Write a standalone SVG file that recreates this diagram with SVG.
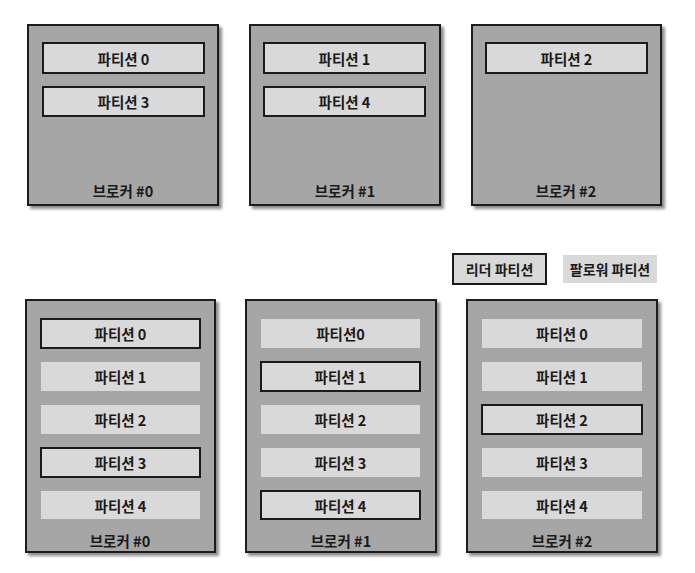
<svg xmlns="http://www.w3.org/2000/svg" width="695" height="573" viewBox="0 0 695 573">
<defs>
<filter id="sh" x="-10%" y="-10%" width="130%" height="130%">
<feGaussianBlur in="SourceAlpha" stdDeviation="1.5"/>
<feOffset dx="3" dy="3" result="b"/>
<feComponentTransfer><feFuncA type="linear" slope="0.45"/></feComponentTransfer>
<feMerge><feMergeNode/><feMergeNode in="SourceGraphic"/></feMerge>
</filter>
<style>
.broker{fill:#a6a6a6;stroke:#1a1a1a;stroke-width:2;filter:url(#sh)}
.lead{fill:#d9d9d9;stroke:#1a1a1a;stroke-width:2}
.fol{fill:#d9d9d9;stroke:none}
text{font-family:"Noto Sans CJK KR","Noto Sans",sans-serif;font-size:14.5px;font-weight:bold;fill:#1a1a1a;text-anchor:middle;dominant-baseline:central}
.lg{font-size:14px}
</style>
</defs>
<rect width="695" height="573" fill="#ffffff"/>
<g id="connectors"/>
<g id="top-broker0">
<rect class="broker" x="28" y="25" width="190" height="180"/>
<rect class="lead" x="43" y="43" width="161" height="30"/><text x="123.5" y="58">파티션 0</text>
<rect class="lead" x="43" y="87" width="161" height="29"/><text x="123.5" y="101.5">파티션 3</text>
<text x="123" y="190">브로커 #0</text>
</g>
<g id="top-broker1">
<rect class="broker" x="250" y="25" width="190" height="180"/>
<rect class="lead" x="264" y="43" width="161" height="30"/><text x="344.5" y="58">파티션 1</text>
<rect class="lead" x="264" y="87" width="161" height="29"/><text x="344.5" y="101.5">파티션 4</text>
<text x="345" y="190">브로커 #1</text>
</g>
<g id="top-broker2">
<rect class="broker" x="472" y="25" width="189" height="180"/>
<rect class="lead" x="486" y="43" width="161" height="30"/><text x="566.5" y="58">파티션 2</text>
<text x="566" y="190">브로커 #2</text>
</g>
<g id="legend-leader">
<rect class="lead" x="453" y="254" width="93" height="30"/><text class="lg" x="499.5" y="269">리더 파티션</text>
</g>
<g id="legend-follower">
<rect class="fol" x="563" y="255" width="94" height="28"/><text class="lg" x="610" y="269">팔로워 파티션</text>
</g>
<g id="bottom-broker0">
<rect class="broker" x="26" y="300" width="189" height="252"/>
<rect class="lead" x="41" y="319" width="159" height="29"/><text x="120.5" y="333.5">파티션 0</text>
<rect class="fol" x="41" y="362" width="159" height="29"/><text x="120.5" y="376.5">파티션 1</text>
<rect class="fol" x="41" y="405" width="159" height="29"/><text x="120.5" y="419.5">파티션 2</text>
<rect class="lead" x="41" y="448" width="159" height="29"/><text x="120.5" y="462.5">파티션 3</text>
<rect class="fol" x="41" y="491" width="159" height="28"/><text x="120.5" y="505">파티션 4</text>
<text x="120" y="540">브로커 #0</text>
</g>
<g id="bottom-broker1">
<rect class="broker" x="246" y="300" width="190" height="252"/>
<rect class="fol" x="261" y="319" width="159" height="29"/><text x="340.5" y="333.5">파티션0</text>
<rect class="lead" x="261" y="362" width="159" height="29"/><text x="340.5" y="376.5">파티션 1</text>
<rect class="fol" x="261" y="405" width="159" height="29"/><text x="340.5" y="419.5">파티션 2</text>
<rect class="fol" x="261" y="448" width="159" height="29"/><text x="340.5" y="462.5">파티션 3</text>
<rect class="lead" x="261" y="491" width="159" height="28"/><text x="340.5" y="505">파티션 4</text>
<text x="341" y="540">브로커 #1</text>
</g>
<g id="bottom-broker2">
<rect class="broker" x="467" y="300" width="190" height="252"/>
<rect class="fol" x="482" y="319" width="160" height="29"/><text x="562" y="333.5">파티션 0</text>
<rect class="fol" x="482" y="362" width="160" height="29"/><text x="562" y="376.5">파티션 1</text>
<rect class="lead" x="482" y="405" width="160" height="29"/><text x="562" y="419.5">파티션 2</text>
<rect class="fol" x="482" y="448" width="160" height="29"/><text x="562" y="462.5">파티션 3</text>
<rect class="fol" x="482" y="491" width="160" height="28"/><text x="562" y="505">파티션 4</text>
<text x="562" y="540">브로커 #2</text>
</g>
</svg>
